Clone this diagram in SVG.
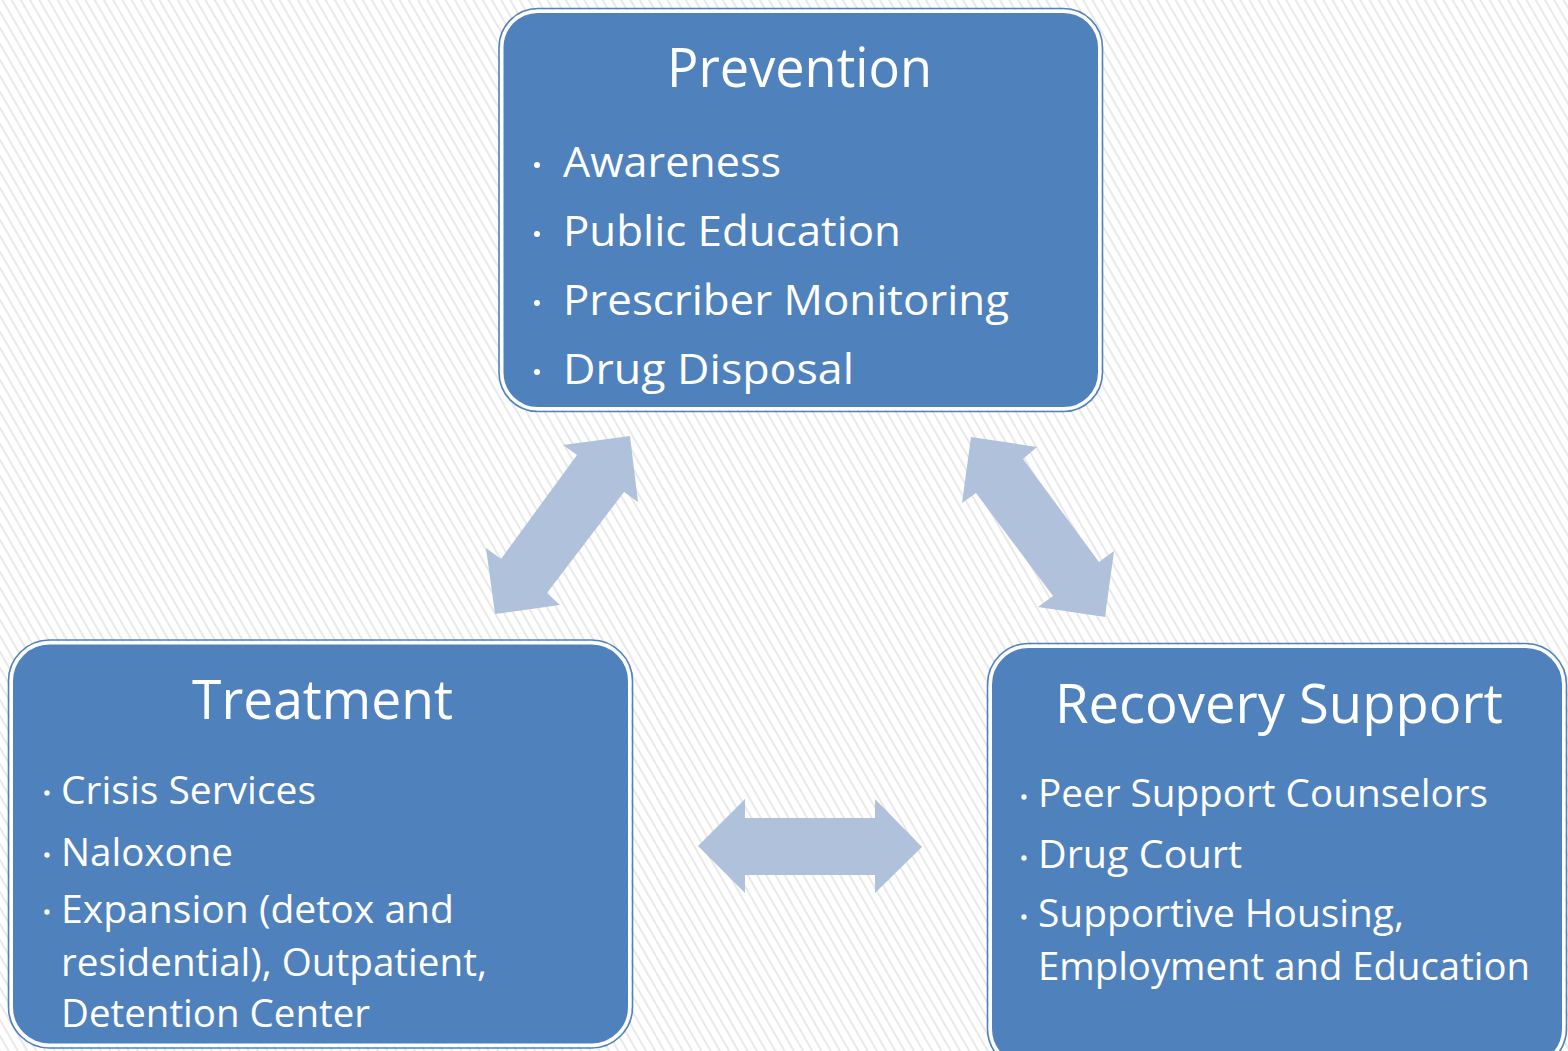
<svg xmlns="http://www.w3.org/2000/svg" width="1568" height="1051" viewBox="0 0 1568 1051">
<defs>
<pattern id="stripes" width="8" height="8" patternUnits="userSpaceOnUse" patternTransform="rotate(-30)">
<rect width="8" height="8" fill="#ffffff"/>
<line x1="2" y1="0" x2="2" y2="8" stroke="#e9e9e9" stroke-width="2"/>
</pattern>
<style>
.box{fill:#4F81BD;stroke:#ffffff;stroke-width:3}
.edge{fill:none;stroke:#4F81BD;stroke-width:1.6}
.title{font-family:"Open Sans","Liberation Sans",sans-serif;fill:#ffffff;font-size:54px}
.item{font-family:"Open Sans","Liberation Sans",sans-serif;fill:#ffffff;font-size:42px}
.item2{font-family:"Open Sans","Liberation Sans",sans-serif;fill:#ffffff;font-size:38px}
.dot{fill:#ffffff}
.arrow{fill:#B0C1DC}
</style>
</defs>
<rect width="1568" height="1051" fill="url(#stripes)"/>

<g id="connectors">
<polygon class="arrow" points="630,436 638,502 624,492 547,593 560,605 495,614 486,548 501,559 577,455 563,445"/>
<polygon class="arrow" points="971,437 1037,447 1023,459 1099,562 1114,551 1105,617 1038,607 1053,596 976,493 962,503"/>
<polygon class="arrow" points="698,846 745,799 745,818 875,818 875,799 922,847 875,893 875,875 745,875 745,893"/>
</g>

<g id="prevention">
<rect class="box" x="502" y="11.5" width="597.5" height="397" rx="36"/>
<rect class="edge" x="499" y="8.5" width="603.5" height="403" rx="39"/>
<text class="title" x="667" y="87" textLength="265" lengthAdjust="spacingAndGlyphs">Prevention</text>
<circle class="dot" cx="537" cy="165" r="3"/>
<text class="item" x="563" y="177" textLength="218" lengthAdjust="spacingAndGlyphs">Awareness</text>
<circle class="dot" cx="537" cy="234" r="3"/>
<text class="item" x="563" y="246" textLength="338" lengthAdjust="spacingAndGlyphs">Public Education</text>
<circle class="dot" cx="537" cy="303" r="3"/>
<text class="item" x="563" y="315" textLength="446" lengthAdjust="spacingAndGlyphs">Prescriber Monitoring</text>
<circle class="dot" cx="537" cy="372" r="3"/>
<text class="item" x="563" y="384" textLength="291" lengthAdjust="spacingAndGlyphs">Drug Disposal</text>
</g>

<g id="treatment">
<rect class="box" x="11.5" y="643" width="618" height="402" rx="38"/>
<rect class="edge" x="8.5" y="640" width="624" height="408" rx="41"/>
<text class="title" x="192" y="719" textLength="261" lengthAdjust="spacingAndGlyphs">Treatment</text>
<circle class="dot" cx="47" cy="793" r="2.7"/>
<text class="item2" x="61" y="804" textLength="255" lengthAdjust="spacingAndGlyphs">Crisis Services</text>
<circle class="dot" cx="47" cy="855" r="2.7"/>
<text class="item2" x="61" y="866" textLength="172" lengthAdjust="spacingAndGlyphs">Naloxone</text>
<circle class="dot" cx="47" cy="912" r="2.7"/>
<text class="item2" x="61" y="923" textLength="393" lengthAdjust="spacingAndGlyphs">Expansion (detox and</text>
<text class="item2" x="61" y="976" textLength="426" lengthAdjust="spacingAndGlyphs">residential), Outpatient,</text>
<text class="item2" x="61" y="1027" textLength="309" lengthAdjust="spacingAndGlyphs">Detention Center</text>
</g>

<g id="recovery-support">
<rect class="box" x="990.5" y="646.5" width="573" height="420" rx="38"/>
<rect class="edge" x="987.5" y="643.5" width="579" height="426" rx="41"/>
<text class="title" x="1055" y="723" textLength="448" lengthAdjust="spacingAndGlyphs">Recovery Support</text>
<circle class="dot" cx="1024" cy="797" r="2.7"/>
<text class="item2" x="1038" y="807" textLength="450" lengthAdjust="spacingAndGlyphs">Peer Support Counselors</text>
<circle class="dot" cx="1024" cy="858" r="2.7"/>
<text class="item2" x="1038" y="868" textLength="204" lengthAdjust="spacingAndGlyphs">Drug Court</text>
<circle class="dot" cx="1024" cy="917" r="2.7"/>
<text class="item2" x="1038" y="927" textLength="366" lengthAdjust="spacingAndGlyphs">Supportive Housing,</text>
<text class="item2" x="1038" y="980" textLength="492" lengthAdjust="spacingAndGlyphs">Employment and Education</text>
</g>
</svg>
